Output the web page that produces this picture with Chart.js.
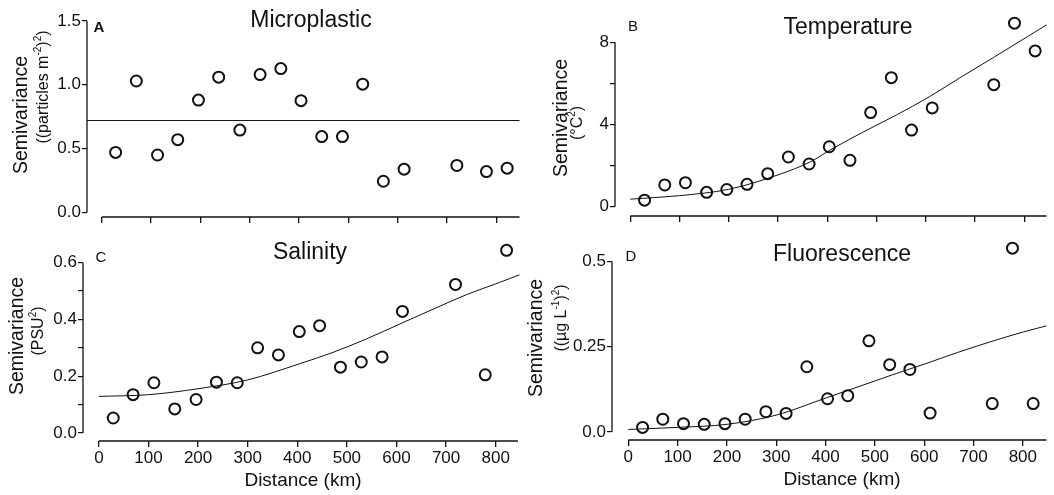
<!DOCTYPE html>
<html>
<head>
<meta charset="utf-8">
<title>Semivariogramas</title>
<script src="https://cdn.jsdelivr.net/npm/chart.js@4.4.1/dist/chart.umd.min.js"></script>
<style>
  body { margin: 0; background: #fff; }
  .panel { position: absolute; }
</style>
</head>
<body>
<div class="panel" style="left:0;top:0;width:527px;height:240px"><canvas id="chartA"></canvas></div>
<div class="panel" style="left:527px;top:0;width:527px;height:240px"><canvas id="chartB"></canvas></div>
<div class="panel" style="left:0;top:240px;width:527px;height:255px"><canvas id="chartC"></canvas></div>
<div class="panel" style="left:527px;top:240px;width:527px;height:255px"><canvas id="chartD"></canvas></div>
<script>
// Distancias (km) y semivarianzas de cada variable
const distA = [28, 70, 113, 154, 196, 237, 280, 321, 363, 404, 446, 488, 529, 571, 613, 720, 780, 822];
const semivarA = [0.47, 1.03, 0.45, 0.57, 0.88, 1.06, 0.645, 1.08, 1.127, 0.876, 0.594, 0.594, 1.005, 0.244, 0.339, 0.368, 0.32, 0.347];
const sillA = 0.72;

const distB = [29, 70, 112, 155, 196, 237, 279, 321, 363, 404, 446, 488, 530, 571, 613, 738, 780, 822];
const semivarB = [0.32, 1.06, 1.17, 0.70, 0.84, 1.09, 1.61, 2.42, 2.08, 2.92, 2.26, 4.58, 6.28, 3.73, 4.81, 5.94, 8.93, 7.58];
const modelDistB = [0, 100, 200, 300, 366, 405, 474, 540, 607, 673, 740, 806, 845];
const modelB = [0.37, 0.54, 0.85, 1.55, 2.19, 2.75, 3.65, 4.46, 5.35, 6.33, 7.3, 8.27, 8.85];

const distC = [29, 69, 111, 153, 196, 237, 279, 320, 362, 404, 445, 487, 529, 571, 612, 719, 779, 822];
const semivarC = [0.053, 0.135, 0.177, 0.085, 0.118, 0.179, 0.177, 0.30, 0.275, 0.357, 0.378, 0.232, 0.25, 0.268, 0.428, 0.523, 0.205, 0.643];
const modelDistC = [0, 100, 200, 300, 405, 472, 539, 607, 674, 741, 808, 848];
const modelC = [0.129, 0.135, 0.156, 0.187, 0.244, 0.284, 0.331, 0.384, 0.436, 0.487, 0.53, 0.557];

const distD = [29, 70, 112, 154, 196, 237, 279, 320, 362, 404, 445, 488, 530, 571, 612, 738, 779, 821];
const semivarD = [0.013, 0.037, 0.024, 0.022, 0.024, 0.037, 0.059, 0.054, 0.191, 0.097, 0.106, 0.267, 0.197, 0.183, 0.055, 0.083, 0.539, 0.083];
const modelDistD = [0, 100, 200, 300, 402, 468, 535, 601, 668, 734, 801, 848];
const modelD = [0.007, 0.013, 0.022, 0.049, 0.1, 0.133, 0.167, 0.199, 0.233, 0.264, 0.293, 0.311];

// Marcas de los ejes
const xTicks = [0, 100, 200, 300, 400, 500, 600, 700, 800];
const yTicksA = [0, 0.5, 1, 1.5];
const yLabelsA = ['0.0', '0.5', '1.0', '1.5'];
const yTicksB = [0, 2, 4, 6, 8];
const yLabelsB = ['0', '', '4', '', '8'];
const yTicksC = [0, 0.1, 0.2, 0.3, 0.4, 0.5, 0.6];
const yLabelsC = ['0.0', '', '0.2', '', '0.4', '', '0.6'];
const yTicksD = [0, 0.25, 0.5];
const yLabelsD = ['0.0', '0.25', '0.5'];

const FONT = "'Liberation Sans', Arial, sans-serif";
const INK = '#111';

// Texto con superíndices: partes [texto, esSuperindice]
function drawRich(ctx, parts, x, y, size, rotate) {
    ctx.save();
    ctx.translate(x, y);
    if (rotate) ctx.rotate(-Math.PI / 2);
    const supSize = Math.round(size * 0.62);
    let total = 0;
    const widths = parts.map(([t, s]) => {
        ctx.font = (s ? supSize : size) + 'px ' + FONT;
        const w = ctx.measureText(t).width;
        total += w;
        return w;
    });
    let cx = -total / 2;
    ctx.textAlign = 'left';
    ctx.textBaseline = 'middle';
    ctx.fillStyle = INK;
    parts.forEach(([t, s], i) => {
        ctx.font = (s ? supSize : size) + 'px ' + FONT;
        ctx.fillText(t, cx, s ? -size * 0.33 : 0);
        cx += widths[i];
    });
    ctx.restore();
}

// Ejes estilo Prism: líneas separadas que no se tocan en el origen
const axisLines = {
    id: 'axisLines',
    afterDraw(chart) {
        const { ctx, chartArea, scales } = chart;
        const yTop = chart.options.plugins.axisLines.yTop;
        ctx.save();
        ctx.strokeStyle = INK;
        ctx.lineWidth = 1.3;
        ctx.beginPath();
        ctx.moveTo(chartArea.left, scales.y.getPixelForValue(yTop));
        ctx.lineTo(chartArea.left, scales.y.getPixelForValue(0));
        ctx.stroke();
        ctx.lineWidth = 1.6;
        ctx.beginPath();
        ctx.moveTo(scales.x.getPixelForValue(0), chartArea.bottom);
        ctx.lineTo(chartArea.right, chartArea.bottom);
        ctx.stroke();
        ctx.restore();
    }
};

// Títulos del panel y de los ejes
const panelText = {
    id: 'panelText',
    afterDraw(chart) {
        const o = chart.options.plugins.panelText;
        const ctx = chart.ctx;
        ctx.save();
        ctx.fillStyle = INK;
        ctx.textAlign = 'center';
        ctx.textBaseline = 'alphabetic';
        ctx.font = '23px ' + FONT;
        ctx.fillText(o.title, o.titlePos[0], o.titlePos[1]);
        ctx.font = (o.letterBold ? 'bold ' : '') + '15px ' + FONT;
        ctx.fillText(o.letter, o.letterPos[0], o.letterPos[1]);
        ctx.restore();
        drawRich(ctx, [['Semivariance', 0]], o.y1Pos[0], o.y1Pos[1], 19.5, true);
        drawRich(ctx, o.yUnit, o.y2Pos[0], o.y2Pos[1], 16, true);
        if (o.xTitlePos) {
            drawRich(ctx, [['Distance (km)', 0]], o.xTitlePos[0], o.xTitlePos[1], 19, false);
        }
    }
};

function makePanel(id, p) {
    const datasets = [{
        type: 'scatter',
        data: p.dist.map((d, i) => ({ x: d, y: p.values[i] })),
        pointStyle: 'circle',
        pointRadius: 5.5,
        pointBorderWidth: 2,
        pointBackgroundColor: 'rgba(0,0,0,0)',
        pointBorderColor: INK,
        clip: false
    }, {
        type: 'line',
        data: p.modelDist.map((d, i) => ({ x: d, y: p.model[i] })),
        borderColor: INK,
        borderWidth: 1,
        pointRadius: 0,
        cubicInterpolationMode: 'monotone',
        clip: false
    }];

    const tickFont = { family: FONT, size: 17 };

    new Chart(document.getElementById(id), {
        type: 'scatter',
        data: { datasets: datasets },
        options: {
            responsive: true,
            maintainAspectRatio: false,
            animation: false,
            events: [],
            layout: { padding: { top: p.padTop, right: p.padRight, left: 0, bottom: 0 } },
            scales: {
                x: {
                    type: 'linear',
                    min: p.xMin,
                    max: p.xMax,
                    afterBuildTicks: s => { s.ticks = xTicks.map(v => ({ value: v })); },
                    afterFit: s => { s.height = p.xAxisH; },
                    border: { display: false },
                    grid: { drawOnChartArea: false, drawTicks: true, tickLength: 6, color: INK, lineWidth: 1.3 },
                    ticks: {
                        color: INK,
                        font: tickFont,
                        padding: 1,
                        maxRotation: 0,
                        autoSkip: false,
                        callback: v => p.showX ? String(v) : ''
                    }
                },
                y: {
                    type: 'linear',
                    min: p.yMin,
                    max: p.yMax,
                    afterBuildTicks: s => { s.ticks = p.yTicks.map(v => ({ value: v })); },
                    afterFit: s => { s.width = p.yAxisW; },
                    border: { display: false },
                    grid: { drawOnChartArea: false, drawTicks: true, tickLength: 5, color: INK, lineWidth: 1.2 },
                    ticks: {
                        color: INK,
                        font: tickFont,
                        padding: 1,
                        autoSkip: false,
                        callback: (v, i) => p.yLabels[i]
                    }
                }
            },
            plugins: {
                legend: { display: false },
                tooltip: { enabled: false },
                axisLines: { yTop: p.yTicks[p.yTicks.length - 1] },
                panelText: p.text
            }
        },
        plugins: [axisLines, panelText]
    });
}

makePanel('chartA', {
    dist: distA, values: semivarA,
    modelDist: [-30, 847], model: [sillA, sillA],
    xMin: -30, xMax: 847, yMin: -0.036, yMax: 1.5,
    yTicks: yTicksA, yLabels: yLabelsA, showX: false,
    padTop: 21, padRight: 5, yAxisW: 87, xAxisH: 23,
    text: {
        title: 'Microplastic', titlePos: [311, 27],
        letter: 'A', letterBold: true, letterPos: [99, 32],
        y1Pos: [22, 115], y2Pos: [44, 87],
        yUnit: [['((particles m', 0], ['-2', 1], [')', 0], ['2', 1], [')', 0]]
    }
});

makePanel('chartB', {
    dist: distB, values: semivarB,
    modelDist: modelDistB, model: modelB,
    xMin: -31, xMax: 845, yMin: -0.45, yMax: 9,
    yTicks: yTicksB, yLabels: yLabelsB, showX: false,
    padTop: 21.75, padRight: 0, yAxisW: 88, xAxisH: 24,
    text: {
        title: 'Temperature', titlePos: [321, 34],
        letter: 'B', letterBold: false, letterPos: [106, 31],
        y1Pos: [35, 118], y2Pos: [51, 123],
        yUnit: [['(°C', 0], ['2', 1], [')', 0]]
    }
});

makePanel('chartC', {
    dist: distC, values: semivarC,
    modelDist: modelDistC, model: modelC,
    xMin: -32, xMax: 845, yMin: -0.028, yMax: 0.64,
    yTicks: yTicksC, yLabels: yLabelsC, showX: true,
    padTop: 10.3, padRight: 9, yAxisW: 83, xAxisH: 54,
    text: {
        title: 'Salinity', titlePos: [310, 19],
        letter: 'C', letterBold: false, letterPos: [101, 22],
        y1Pos: [18, 96], y2Pos: [39, 91],
        yUnit: [['(PSU', 0], ['2', 1], [')', 0]],
        xTitlePos: [303, 241]
    }
});

makePanel('chartD', {
    dist: distD, values: semivarD,
    modelDist: modelDistD, model: modelD,
    xMin: -33, xMax: 848, yMin: -0.024, yMax: 0.53,
    yTicks: yTicksD, yLabels: yLabelsD, showX: true,
    padTop: 9.7, padRight: 0, yAxisW: 85, xAxisH: 55,
    text: {
        title: 'Fluorescence', titlePos: [315, 21],
        letter: 'D', letterBold: false, letterPos: [104, 21],
        y1Pos: [10, 98], y2Pos: [35, 78],
        yUnit: [['((µg L', 0], ['-1', 1], [')', 0], ['2', 1], [')', 0]],
        xTitlePos: [315, 240]
    }
});
</script>
</body>
</html>
